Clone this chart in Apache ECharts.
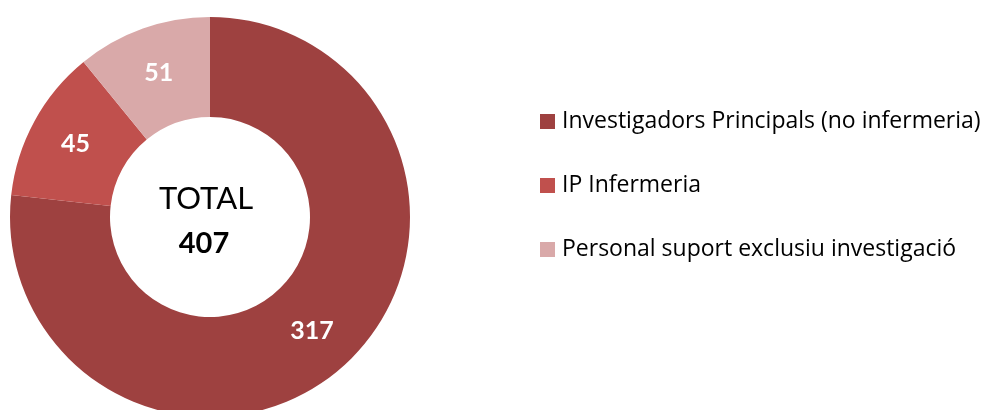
<!DOCTYPE html>
<html><head><meta charset="utf-8">
<script src="https://cdn.jsdelivr.net/npm/echarts@6/dist/echarts.min.js"></script>
<style>html,body{margin:0;padding:0;background:#fff}#c{width:988px;height:410px}</style>
</head><body><div id="c"></div>
<script>
const categories = ['Investigadors Principals (no infermeria)', 'IP Infermeria', 'Personal suport exclusiu investigació'];
// slice sizes as drawn in the picture
const sliceValues = [317, 51, 45];
// label texts as printed on the slices
const sliceLabels = ['317', '45', '51'];
const colors = ['#9E4140', '#C0504D', '#D9A9A9'];
const totalLabel = 'TOTAL';
const totalValue = '407';

const chart = echarts.init(document.getElementById('c'));
chart.setOption({
  animation: false,
  color: colors,
  legend: {
    orient: 'vertical',
    left: 540,
    top: 110,
    padding: 0,
    itemWidth: 15,
    itemHeight: 15,
    itemGap: 41,
    icon: 'rect',
    textStyle: { fontFamily: 'Open Sans', fontSize: 23, lineHeight: 23, color: '#000', padding: [0, 0, 0, 2] },
    data: categories
  },
  graphic: [
    { type: 'text', x: 206, y: 199, style: { text: totalLabel, font: '31px Lato', fill: '#000', align: 'center', verticalAlign: 'middle' } },
    { type: 'text', x: 204, y: 244, style: { text: totalValue, font: 'bold 29px Lato', fill: '#000', align: 'center', verticalAlign: 'middle' } }
  ],
  series: [{
    type: 'pie',
    center: [210, 217],
    radius: [100, 200],
    startAngle: 90,
    clockwise: true,
    avoidLabelOverlap: false,
    label: {
      show: true,
      position: 'inside',
      formatter: (p) => sliceLabels[p.dataIndex],
      color: '#fff',
      fontFamily: 'Lato',
      fontWeight: 'bold',
      fontSize: 25
    },
    labelLine: { show: false },
    itemStyle: { borderWidth: 0 },
    emphasis: { disabled: true },
    data: categories.map((n, i) => ({ name: n, value: sliceValues[i] }))
  }]
});
</script></body></html>
